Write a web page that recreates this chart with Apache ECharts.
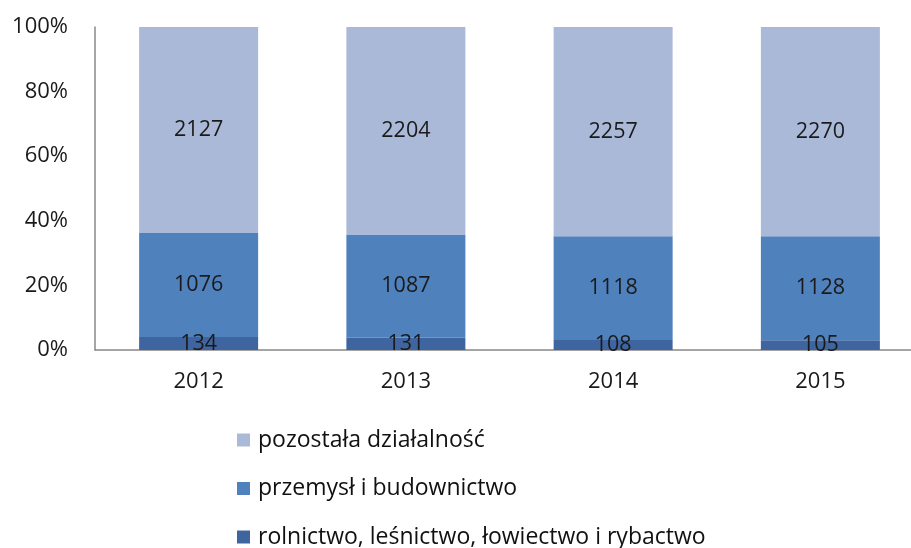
<!DOCTYPE html>
<html><head><meta charset="utf-8">
<script src="https://cdn.jsdelivr.net/npm/echarts@6/dist/echarts.min.js"></script>
<style>html,body{margin:0;padding:0;background:#fff;overflow:hidden;width:911px;height:548px}#c{width:930px;height:600px}</style>
</head><body><div id="c"></div>
<script>
const categories = ['2012','2013','2014','2015'];
const rolnictwo = [134, 131, 108, 105];
const przemysl = [1076, 1087, 1118, 1128];
const pozostala = [2127, 2204, 2257, 2270];
const yTicks = [0, 20, 40, 60, 80, 100];

const names = ['rolnictwo, leśnictwo, łowiectwo i rybactwo', 'przemysł i budownictwo', 'pozostała działalność'];
const colors = ['#3F65A0', '#4F81BD', '#AAB9D8'];
const raw = [rolnictwo, przemysl, pozostala];
const totals = categories.map((_, i) => rolnictwo[i] + przemysl[i] + pozostala[i]);
const font = '"Open Sans", sans-serif';

const series = raw.map((arr, s) => ({
  name: names[s],
  type: 'bar',
  stack: 'all',
  barWidth: 119,
  itemStyle: { color: colors[s] },
  label: {
    show: true, position: 'inside', color: '#1a1a1a', fontSize: 21.5, fontFamily: font,
    formatter: p => arr[p.dataIndex]
  },
  data: arr.map((v, i) => v / totals[i] * 100)
}));

const chart = echarts.init(document.getElementById('c'));
chart.setOption({
  animation: false,
  grid: { left: 95, top: 27, width: 829, height: 323 },
  legend: {
    orient: 'vertical', left: 237, top: 428, height: 165, padding: 0,
    data: [names[2], names[1], names[0]],
    itemWidth: 13, itemHeight: 13, itemGap: 24.5,
    icon: 'rect',
    textStyle: { fontSize: 23, fontFamily: font, color: '#111', lineHeight: 24, padding: [0, 0, 0, 3] }
  },
  xAxis: {
    type: 'category', data: categories,
    axisLine: { lineStyle: { color: '#888', width: 1.5 } },
    axisTick: { show: false },
    axisLabel: { fontSize: 22, fontFamily: font, color: '#1a1a1a', margin: 21 }
  },
  yAxis: {
    type: 'value', min: 0, max: 100, interval: 20,
    axisLine: { show: true, lineStyle: { color: '#888', width: 1.5 } },
    axisTick: { show: false },
    splitLine: { show: false },
    axisLabel: { fontSize: 22, fontFamily: font, color: '#1a1a1a', margin: 27,
      formatter: v => yTicks.includes(v) ? v + '%' : '' }
  },
  series
});
</script></body></html>
